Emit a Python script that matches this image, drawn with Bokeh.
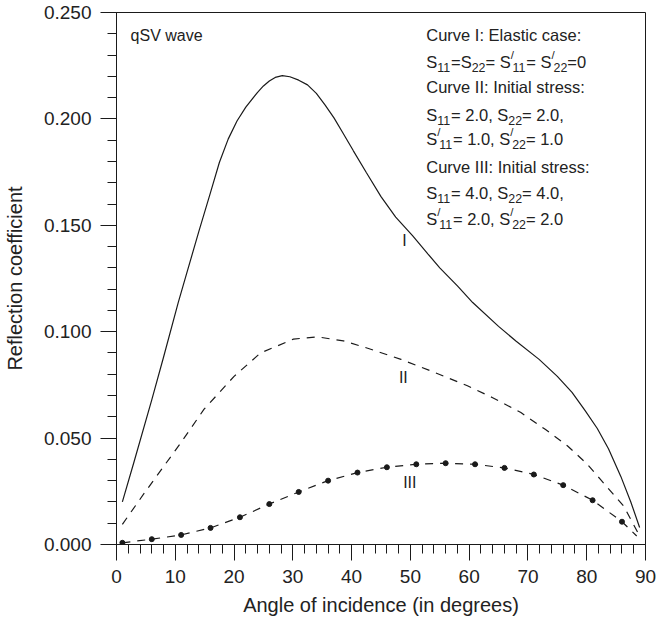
from bokeh.plotting import figure
from bokeh.models import FixedTicker, Label, Range1d, NumeralTickFormatter
from bokeh.embed import file_html
from bokeh.resources import INLINE

# ---- data ----
curve1_angle = [1, 3, 6, 8, 10.5, 12, 14, 16, 17.5, 19, 20.5, 22, 24, 25, 26, 27, 28.2, 29.5,
                31, 32.5, 34, 35.5, 37, 38.5, 40.3, 42.5, 45, 47.5, 50.4, 53, 55, 58, 60.6,
                65, 68, 71.9, 75, 77.5, 79.7, 81.8, 83.7, 85.8, 87.5, 89]
curve1_value = [0.020, 0.039, 0.068, 0.088, 0.1137, 0.128, 0.147, 0.1655, 0.1795, 0.1905,
                0.199, 0.2055, 0.2125, 0.2155, 0.2178, 0.2195, 0.2203, 0.2198, 0.2182, 0.216,
                0.212, 0.2065, 0.2005, 0.1935, 0.185, 0.1748, 0.1635, 0.1538, 0.145, 0.1365,
                0.130, 0.1215, 0.1137, 0.1025, 0.0955, 0.087, 0.079, 0.0715, 0.063, 0.0545,
                0.045, 0.032, 0.020, 0.008]

curve2_angle = [1, 4.8, 11, 14.9, 20, 24.5, 30.1, 34.1, 38.6, 43, 48.4, 54, 59.7, 64,
                68.8, 73, 76.7, 80, 82.3, 86.3, 89]
curve2_value = [0.0095, 0.0244, 0.048, 0.0636, 0.079, 0.090, 0.0965, 0.0976, 0.0957, 0.092,
                0.087, 0.081, 0.0746, 0.069, 0.062, 0.054, 0.0464, 0.038, 0.0307, 0.018, 0.004]

curve3_angle = [1, 6, 11, 16, 21, 26, 31, 36, 41, 46, 51, 56, 61, 66, 71, 76, 81, 86]
curve3_value = [0.0008, 0.0025, 0.0045, 0.0078, 0.0128, 0.019, 0.0247, 0.030, 0.0338,
                0.0363, 0.0377, 0.0382, 0.0377, 0.036, 0.0329, 0.0279, 0.0208, 0.0107]
curve3_end_angle = [88.5]
curve3_end_value = [0.004]

x_ticks = [0, 10, 20, 30, 40, 50, 60, 70, 80, 90]
x_minor = [v for v in range(0, 91, 2)]
y_ticks = [0.0, 0.05, 0.10, 0.15, 0.20, 0.25]
y_minor = [i / 100 for i in range(0, 26)]

FONT = "Liberation Sans"
INK = "#1a1a1a"
TXT = "#222222"

p = figure(width=659, height=623, output_backend="svg", toolbar_location=None,
           x_range=Range1d(0, 90), y_range=Range1d(0, 0.25),
           min_border_left=113, min_border_right=14, min_border_top=12, min_border_bottom=79)
p.grid.visible = False
p.outline_line_color = INK
p.outline_line_width = 1
p.background_fill_color = "white"
p.border_fill_color = "white"

for ax, ticks, minor in ((p.xaxis[0], x_ticks, x_minor), (p.yaxis[0], y_ticks, y_minor)):
    ax.ticker = FixedTicker(ticks=ticks, minor_ticks=minor)
    ax.axis_line_color = INK
    ax.major_tick_line_color = INK
    ax.minor_tick_line_color = INK
    ax.major_tick_in = 0
    ax.major_tick_out = 16
    ax.minor_tick_in = 0
    ax.minor_tick_out = 9
    ax.major_label_text_font = FONT
    ax.major_label_text_font_size = "19px"
    ax.major_label_text_color = TXT
    ax.major_label_standoff = 9
    ax.axis_label_text_font = FONT
    ax.axis_label_text_font_size = "20px"
    ax.axis_label_text_font_style = "normal"
    ax.axis_label_text_color = TXT

p.yaxis[0].formatter = NumeralTickFormatter(format="0.000")
p.xaxis[0].axis_label = "Angle of incidence (in degrees)"
p.yaxis[0].axis_label = "Reflection coefficient"
p.xaxis[0].axis_label_standoff = 8
p.yaxis[0].axis_label_standoff = 15

p.line(curve1_angle, curve1_value, line_color=INK, line_width=1.2)
p.line(curve2_angle, curve2_value, line_color=INK, line_width=1.2, line_dash="8 7")
p.line(curve3_angle + curve3_end_angle, curve3_value + curve3_end_value,
       line_color=INK, line_width=1.2, line_dash="8 7")
p.scatter(curve3_angle, curve3_value, size=5, color=INK)

def lab(x, y, text, size=16, align="left", dx=0, dy=0):
    p.add_layout(Label(x=x, y=y, x_offset=dx, y_offset=dy, text=text, text_font=FONT,
                       text_font_size=f"{size}px", text_color=TXT, text_align=align,
                       text_baseline="alphabetic"))

lab(2.4, 0.239, "qSV wave", 16)
lab(49.0, 0.1427, "I", 16, align="center")
lab(48.8, 0.0785, "II", 16, align="center")
lab(49.9, 0.0291, "III", 16, align="center")

# ---- annotation block with sub/superscripts ----
W = {"S": 0.667, "=": 0.584, " ": 0.278, ".": 0.278, ",": 0.278, "/": 0.278}
def width(s, fs):
    return sum(W.get(c, 0.556) for c in s) * fs

def rich(x, y, segs, fs=16.5):
    off = 0.0
    for txt, kind in segs:
        if kind == "n":
            f, dy = fs, 0
        elif kind == "sub":
            f, dy = fs * 0.75, -fs * 0.32
        else:
            f, dy = fs * 0.7, fs * 0.42
        lab(x, y, txt, round(f, 1), dx=off, dy=dy)
        off += width(txt, f) * (0.6 if kind == "sup" else 1.0)

TX = 52.7
lab(TX, 0.2395, "Curve I: Elastic case:", 16.5)
rich(TX, 0.2268, [("S", "n"), ("11", "sub"), ("=S", "n"), ("22", "sub"), ("= S", "n"),
                  ("/", "sup"), ("11", "sub"), ("= S", "n"), ("/", "sup"), ("22", "sub"), ("=0", "n")])
lab(TX, 0.2148, "Curve II: Initial stress:", 16.5)
rich(TX, 0.2017, [("S", "n"), ("11", "sub"), ("= 2.0, S", "n"), ("22", "sub"), ("= 2.0,", "n")])
rich(TX, 0.1905, [("S", "n"), ("/", "sup"), ("11", "sub"), ("= 1.0, S", "n"), ("/", "sup"),
                  ("22", "sub"), ("= 1.0", "n")])
lab(TX, 0.1775, "Curve III: Initial stress:", 16.5)
rich(TX, 0.1652, [("S", "n"), ("11", "sub"), ("= 4.0, S", "n"), ("22", "sub"), ("= 4.0,", "n")])
rich(TX, 0.1530, [("S", "n"), ("/", "sup"), ("11", "sub"), ("= 2.0, S", "n"), ("/", "sup"),
                  ("22", "sub"), ("= 2.0", "n")])

open("out.html", "w").write(file_html(p, INLINE))
